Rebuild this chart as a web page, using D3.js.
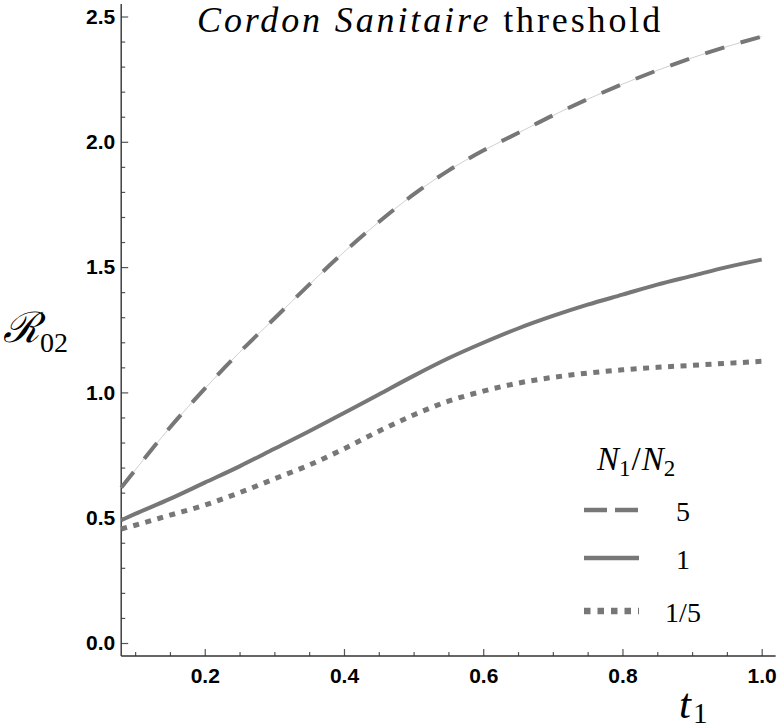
<!DOCTYPE html>
<html>
<head>
<meta charset="utf-8">
<title>Cordon Sanitaire threshold</title>
<script src="https://cdn.jsdelivr.net/npm/d3@7"></script>
<style>
  body { margin: 0; background: #fff; }
  .tick text { font-family: "Liberation Sans", Arial, sans-serif; font-weight: bold; font-size: 21px; fill: #000; }
  .tick line { stroke: #555; stroke-width: 1.2; }
  .serif { font-family: "Liberation Serif", "Times New Roman", serif; fill: #000; }
</style>
</head>
<body>
<script>
// t1 sample points and R02 values
var t1 = [0.08, 0.1, 0.15, 0.2, 0.25, 0.3, 0.35, 0.4, 0.45, 0.5, 0.55, 0.6, 0.65, 0.7, 0.75, 0.8, 0.85, 0.9, 0.95, 1.0];
var ratio5 = [0.62, 0.69, 0.86, 1.015, 1.16, 1.295, 1.43, 1.56, 1.68, 1.79, 1.885, 1.965, 2.035, 2.105, 2.17, 2.23, 2.285, 2.335, 2.38, 2.42];
var ratio1 = [0.49, 0.515, 0.575, 0.64, 0.705, 0.775, 0.845, 0.918, 0.992, 1.066, 1.136, 1.198, 1.255, 1.305, 1.35, 1.39, 1.43, 1.465, 1.50, 1.53];
var ratio15 = [0.455, 0.47, 0.51, 0.55, 0.60, 0.655, 0.71, 0.775, 0.845, 0.91, 0.965, 1.005, 1.037, 1.06, 1.077, 1.09, 1.10, 1.108, 1.116, 1.124];
var seriesNames = ["5", "1", "1/5"];
var xTicks = [0.2, 0.4, 0.6, 0.8, 1.0];
var yTicks = [0.0, 0.5, 1.0, 1.5, 2.0, 2.5];

var W = 779, H = 728;
var x = d3.scaleLinear().domain([0.08, 1.0]).range([121.2, 761.7]);
var y = d3.scaleLinear().domain([0, 2.5]).range([643, 16.5]);

var svg = d3.select("body").append("svg").attr("width", W).attr("height", H);

// minor ticks
var xMinor = d3.range(0.1, 1.001, 0.05).filter(function (v) { return xTicks.every(function (t) { return Math.abs(t - v) > 1e-6; }); });
var yMinor = d3.range(0, 2.5001, 0.1).filter(function (v) { return yTicks.every(function (t) { return Math.abs(t - v) > 1e-6; }); });

var x0 = x.range()[0], yBase = y(-0.052);

svg.append("g").attr("transform", "translate(0," + yBase + ")")
  .call(d3.axisBottom(x).tickValues(xMinor).tickSize(-4).tickFormat(""))
  .call(function (g) { g.select(".domain").remove(); });
svg.append("g").attr("transform", "translate(0," + yBase + ")")
  .call(d3.axisBottom(x).tickValues(xTicks).tickSize(-7).tickPadding(12).tickFormat(d3.format(".1f")))
  .call(function (g) { g.select(".domain").remove(); });

svg.append("g").attr("transform", "translate(" + x0 + ",0)")
  .call(d3.axisLeft(y).tickValues(yMinor).tickSize(-4).tickFormat(""))
  .call(function (g) { g.select(".domain").remove(); });
svg.append("g").attr("transform", "translate(" + x0 + ",0)")
  .call(d3.axisLeft(y).tickValues(yTicks).tickSize(-7).tickPadding(6).tickFormat(d3.format(".1f")))
  .call(function (g) { g.select(".domain").remove(); });

// frame lines
svg.append("line").attr("x1", x0).attr("x2", x0).attr("y1", yBase).attr("y2", y(2.55))
  .attr("stroke", "#333").attr("stroke-width", 1.4);
svg.append("line").attr("x1", x0).attr("x2", x(1.02)).attr("y1", yBase).attr("y2", yBase)
  .attr("stroke", "#333").attr("stroke-width", 1.4);

// curves
var line = d3.line().x(function (d) { return x(d[0]); }).y(function (d) { return y(d[1]); })
  .curve(d3.curveMonotoneX);
function pts(vals) { return t1.map(function (t, i) { return [t, vals[i]]; }); }

var grey = "#777";
svg.append("path").attr("d", line(pts(ratio5))).attr("fill", "none")
  .attr("stroke", "#d0d0d0").attr("stroke-width", 1);
svg.append("path").attr("d", line(pts(ratio5))).attr("fill", "none")
  .attr("stroke", grey).attr("stroke-width", 4).attr("stroke-dasharray", "20,17");
svg.append("path").attr("d", line(pts(ratio1))).attr("fill", "none")
  .attr("stroke", grey).attr("stroke-width", 4);
svg.append("path").attr("d", line(pts(ratio15))).attr("fill", "none")
  .attr("stroke", grey).attr("stroke-width", 5).attr("stroke-dasharray", "6,6.5");

// title, spread to the width it has in the picture
var title = svg.append("text").attr("class", "serif").attr("x", 197).attr("y", 32).style("font-size", "36px");
title.append("tspan").style("font-style", "italic").text("Cordon Sanitaire");
title.append("tspan").text(" threshold");
var tw = title.node().getComputedTextLength();
title.attr("letter-spacing", Math.max(0, (466 - tw) / 26));

// y label
var yl = svg.append("text").attr("class", "serif").attr("x", 3).attr("y", 342).style("font-size", "42px");
yl.append("tspan").style("font-family", "DejaVu Serif").style("font-style", "italic").text("ℛ");
yl.append("tspan").attr("dy", 10).style("font-size", "28px").text("02");

// x label
var xl = svg.append("text").attr("class", "serif").attr("x", 679).attr("y", 718).style("font-size", "43px");
xl.append("tspan").style("font-style", "italic").text("t");
xl.append("tspan").attr("dy", 5).attr("dx", 2).style("font-size", "29px").text("1");

// legend
var lg = svg.append("text").attr("class", "serif").attr("x", 597).attr("y", 470).style("font-size", "33px");
lg.append("tspan").style("font-style", "italic").text("N");
lg.append("tspan").attr("dy", 6).style("font-size", "23px").text("1");
lg.append("tspan").attr("dy", -6).attr("dx", 1).text("/");
lg.append("tspan").attr("dx", 1).style("font-style", "italic").text("N");
lg.append("tspan").attr("dy", 6).style("font-size", "23px").text("2");

var rows = [
  { name: seriesNames[0], y: 510, dash: "23,8", w: 4.5 },
  { name: seriesNames[1], y: 558, dash: null, w: 4.5 },
  { name: seriesNames[2], y: 611, dash: "6.5,7", w: 6.5 }
];
rows.forEach(function (r) {
  svg.append("line").attr("x1", 584).attr("x2", 639).attr("y1", r.y).attr("y2", r.y)
    .attr("stroke", grey).attr("stroke-width", r.w).attr("stroke-dasharray", r.dash);
  svg.append("text").attr("class", "serif").attr("x", 683).attr("y", r.y + 11)
    .attr("text-anchor", "middle").style("font-size", "28px").text(r.name);
});
</script>
</body>
</html>
